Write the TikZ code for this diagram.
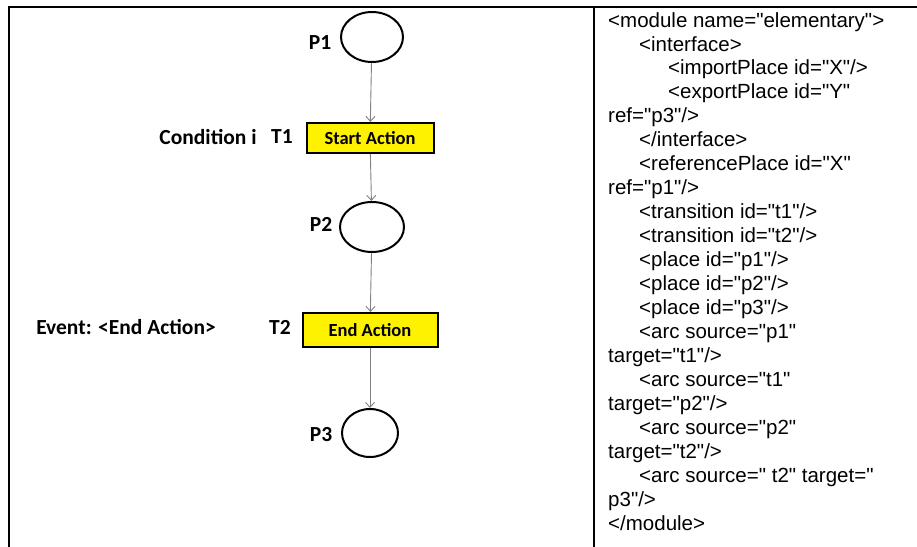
\documentclass[tikz,border=0pt]{standalone}
\usepackage{fontspec}
\usepackage{tikz}
\usetikzlibrary{arrows.meta, shapes.geometric}
\newfontfamily\lblfont{Carlito}
\newfontfamily\xmlfont{Liberation Sans}

\begin{document}
\begin{tikzpicture}[x=1pt, y=-1pt,
    placenode/.style={ellipse, draw, line width=2pt, inner sep=0pt},
    transbox/.style={rectangle, draw, line width=2pt, fill=yellow, inner sep=0pt,
        font=\lblfont\bfseries\fontsize{18.5}{20}\selectfont},
    lbl/.style={inner sep=0pt, font=\lblfont\bfseries\fontsize{21.5}{24}\selectfont},
    arc/.style={-{Straight Barb[length=5pt, width=9pt]}, gray, line width=0.9pt},
    frame/.style={line width=2.4pt, line cap=rect}]
            \useasboundingbox (0,0) rectangle (917,546);
            % table frame
            \draw[frame] (9,546) -- (9,7) -- (917,7);
            \draw[frame] (594,7) -- (594,546);

            % places and transitions
            \node[placenode, minimum width=62, minimum height=50] at (372, 37)  (p1) {};
            \node[transbox, minimum width=127, minimum height=30] at (370, 138) (t1) {Start Action};
            \node[placenode, minimum width=64, minimum height=50] at (372, 227) (p2) {};
            \node[transbox, minimum width=135, minimum height=34] at (370, 330) (t2) {End Action};
            \node[placenode, minimum width=56, minimum height=48] at (370, 433) (p3) {};

            % labels
            \node[lbl] at (320, 43)  (lp1) {P1};
            \node[lbl] at (282, 137) (lt1) {T1};
            \node[lbl] at (208, 137) (cond) {Condition i};
            \node[lbl] at (321, 224) (lp2) {P2};
            \node[lbl] at (280, 327) (lt2) {T2};
            \node[lbl] at (126, 327) (event) {Event: <End Action>};
            \node[lbl] at (321, 435) (lp3) {P3};

            % arcs
            \draw[arc] (p1) -- (t1);
            \draw[arc] (t1) -- (p2);
            \draw[arc] (p2) -- (t2);
            \draw[arc] (t2) -- (p3);

            % xml listing
            \node[anchor=north west, inner sep=0pt, align=left,
                font=\xmlfont\fontsize{20.5}{23.95}\selectfont] at (608, 12) (xml) {%
<module name="elementary">\\
\hspace*{31pt}<interface>\\
\hspace*{60pt}<importPlace id="X"/>\\
\hspace*{60pt}<exportPlace id="Y"\\
ref="p3"/>\\
\hspace*{31pt}</interface>\\
\hspace*{31pt}<referencePlace id="X"\\
ref="p1"/>\\
\hspace*{31pt}<transition id="t1"/>\\
\hspace*{31pt}<transition id="t2"/>\\
\hspace*{31pt}<place id="p1"/>\\
\hspace*{31pt}<place id="p2"/>\\
\hspace*{31pt}<place id="p3"/>\\
\hspace*{31pt}<arc source="p1"\\
target="t1"/>\\
\hspace*{31pt}<arc source="t1"\\
target="p2"/>\\
\hspace*{31pt}<arc source="p2"\\
target="t2"/>\\
\hspace*{31pt}<arc source=" t2" target="\\
p3"/>\\
</module>};
        \end{tikzpicture}
\end{document}
